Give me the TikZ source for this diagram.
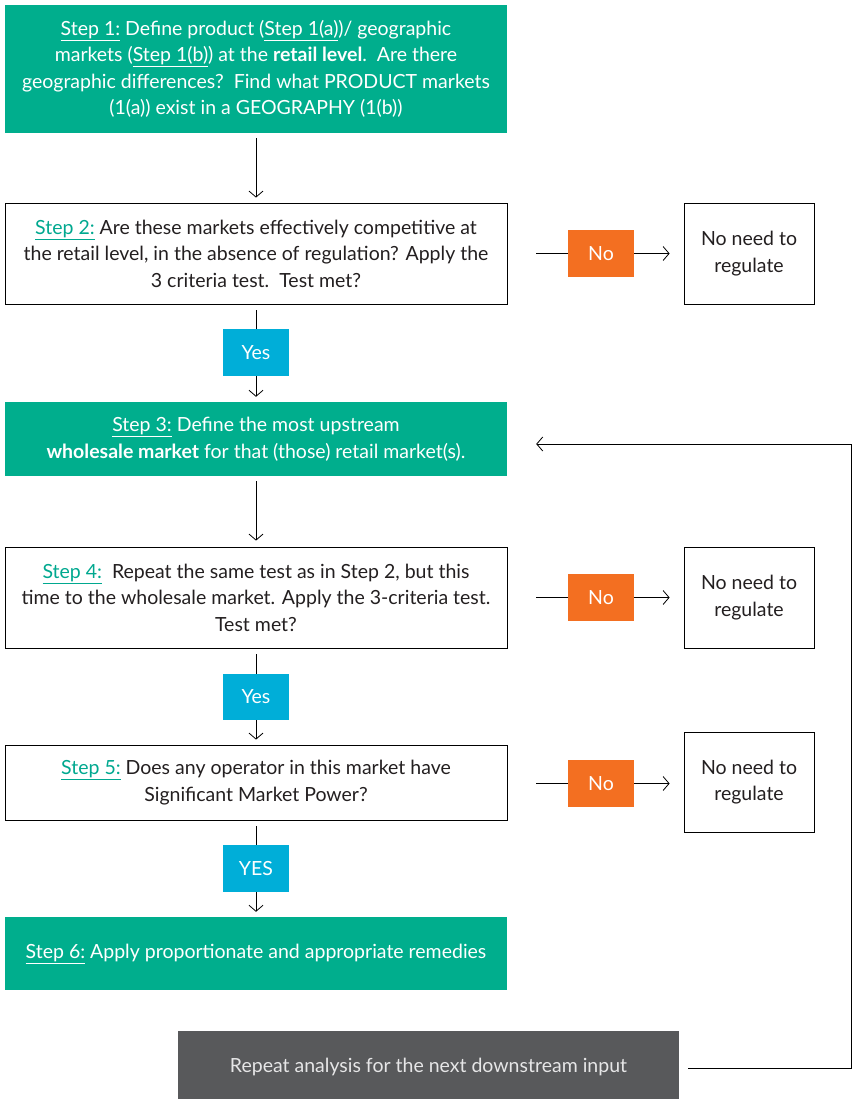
\documentclass[tikz,border=0pt]{standalone}
\usepackage{fontspec}
\setmainfont{Lato}
\usetikzlibrary{arrows.meta}
\definecolor{stepgreen}{HTML}{00AE8D}
\definecolor{yesblue}{HTML}{00AED8}
\definecolor{noorange}{HTML}{F36F21}
\definecolor{repeatgrey}{HTML}{58595B}
\definecolor{linkteal}{HTML}{00A88F}
\definecolor{textgrey}{HTML}{231F20}
\newcommand{\steplink}[1]{{\color{linkteal}\underline{#1}}}

\begin{document}
\begin{tikzpicture}[x=1pt,y=-1pt,font=\fontsize{19.5}{26.5}\selectfont,
        greenbox/.style={fill=stepgreen,text=white,minimum width=502pt,align=center,inner sep=0pt},
        whitebox/.style={draw=black,line width=0.8pt,minimum width=502pt,align=center,inner sep=0pt,text=textgrey},
        nobox/.style={fill=noorange,text=white,minimum width=66pt,minimum height=47pt,inner sep=0pt},
        yesbox/.style={fill=yesblue,text=white,minimum width=66pt,minimum height=47pt,inner sep=0pt},
        regbox/.style={draw=black,line width=0.8pt,minimum width=130pt,align=center,inner sep=0pt,text=textgrey},
        flow/.style={-{Straight Barb[length=6pt,width=14pt]},line width=0.8pt},
        link/.style={line width=0.8pt}]
        \useasboundingbox (0,0) rectangle (852,1100);
        % main column
        \node[greenbox,minimum height=128pt] (step1) at (256,69) {\underline{Step 1:} Define product (\underline{Step 1(a)})/ geographic\\
            markets (\underline{Step 1(b)}) at the \textbf{retail level}.\ \ Are there\\
            geographic differences?\ \ Find what PRODUCT markets\\
            (1(a)) exist in a GEOGRAPHY (1(b))};
        \node[whitebox,minimum height=101pt] (step2) at (256,253.5) {\steplink{Step 2:} Are these markets effectively competitive at\\
            the retail level, in the absence of regulation? Apply the\\
            3 criteria test.\ \ Test met?};
        \node[yesbox] (yes1) at (256,352.5) {Yes};
        \node[greenbox,minimum height=74pt] (step3) at (256,439) {\underline{Step 3:} Define the most upstream\\
            \textbf{wholesale market} for that (those) retail market(s).};
        \node[whitebox,minimum height=101pt] (step4) at (256,597.5) {\steplink{Step 4:}\ \ Repeat the same test as in Step 2, but this\\
            time to the wholesale market. Apply the 3-criteria test.\\
            Test met?};
        \node[yesbox,minimum height=46pt] (yes2) at (256,697) {Yes};
        \node[whitebox,minimum height=75pt] (step5) at (256,782.5) {\steplink{Step 5:} Does any operator in this market have\\
            Significant Market Power?};
        \node[yesbox] (yes3) at (256,868.5) {YES};
        \node[greenbox,minimum height=73pt] (step6) at (256,953.5) {\underline{Step 6:} Apply proportionate and appropriate remedies};
        \node[fill=repeatgrey,text=white!85!repeatgrey,minimum width=501pt,minimum height=68pt,inner sep=0pt,text depth=-6pt] (repeat) at (428.5,1065) {Repeat analysis for the next downstream input};
        % right column
        \node[nobox] (no1) at (601,253.5) {No};
        \node[regbox,minimum height=101pt] (reg1) at (749,253.5) {No need to\\regulate};
        \node[nobox] (no2) at (601,597.5) {No};
        \node[regbox,minimum height=101pt] (reg2) at (749,597.5) {No need to\\regulate};
        \node[nobox] (no3) at (601,783.5) {No};
        \node[regbox,minimum height=100pt] (reg3) at (749,782) {No need to\\regulate};
        \coordinate (corner) at (851,1068);
        % connectors
        \draw[flow,shorten <=5pt,shorten >=5pt] (step1) -- (step2);
        \draw[link,shorten <=6pt] (step2) -- (yes1);
        \draw[flow,shorten >=5pt] (yes1) -- (step3);
        \draw[flow,shorten <=5pt,shorten >=6pt] (step3) -- (step4);
        \draw[link,shorten <=6pt] (step4) -- (yes2);
        \draw[flow,shorten >=5pt] (yes2) -- (step5);
        \draw[link,shorten <=6pt] (step5) -- (yes3);
        \draw[flow,shorten >=5pt] (yes3) -- (step6);
        \draw[link,shorten <=29pt] (step2) -- (no1);
        \draw[flow,shorten >=14pt] (no1) -- (reg1);
        \draw[link,shorten <=29pt] (step4) -- (no2);
        \draw[flow,shorten >=14pt] (no2) -- (reg2);
        \draw[link,shorten <=29pt] (step5.east |- no3) -- (no3);
        \draw[flow,shorten >=14pt] (no3) -- (reg3.west |- no3);
        \draw[flow,shorten <=9pt,shorten >=29pt] (repeat.east |- corner) -- (corner) |- ([yshift=-5pt]step3.east);
    \end{tikzpicture}
\end{document}
